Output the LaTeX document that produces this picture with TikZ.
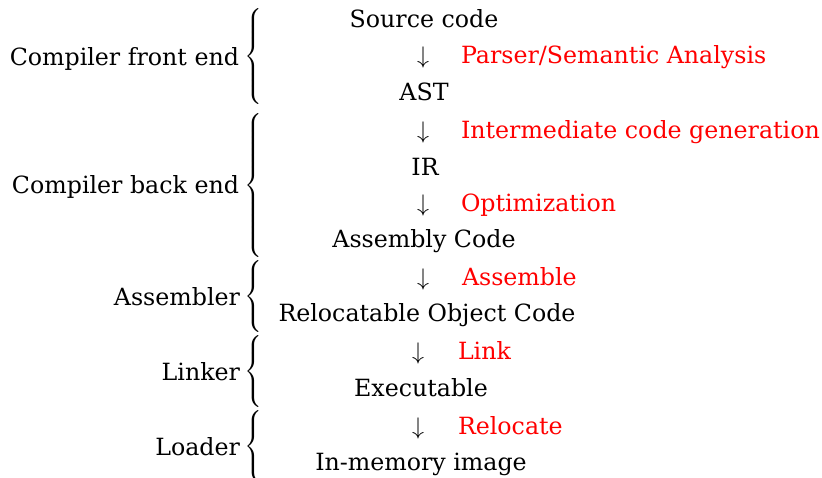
\documentclass[tikz,border=0pt]{standalone}
\usepackage{fontspec}
\setmainfont{DejaVu Serif}
\newcommand\grpbrace[1]{$\delimiterfactor=1000\delimitershortfall=0pt\left\{\vcenter{\hrule height #1 width 0pt}\right.$}
\begin{document}
\begin{tikzpicture}[x=0.5pt,y=-0.5pt,
  every node/.style={inner sep=0pt, outer sep=0pt, font=\fontsize{11.85}{14}\selectfont},
  stage/.style={anchor=base},
  act/.style={anchor=base west, text=red},
  arr/.style={anchor=base},
  grp/.style={anchor=base east},
  brc/.style={anchor=west}]
\useasboundingbox (0,0) rectangle (822,477);
\node[stage] (src) at (424,27) {Source code};
\node[arr] (a1) at (423,63) {$\downarrow$};
\node[act] (l1) at (461,63) {Parser/Semantic Analysis};
\node[stage] (ast) at (424,100) {AST};
\node[arr] (a2) at (423,138) {$\downarrow$};
\node[act] (l2) at (461,138) {Intermediate code generation};
\node[stage] (ir) at (425,175) {IR};
\node[arr] (a3) at (423,211) {$\downarrow$};
\node[act] (l3) at (461,211) {Optimization};
\node[stage] (asm) at (424,247) {Assembly Code};
\node[arr] (a4) at (423,285) {$\downarrow$};
\node[act] (l4) at (462,285) {Assemble};
\node[stage] (obj) at (427,321) {Relocatable Object Code};
\node[arr] (a5) at (418,359) {$\downarrow$};
\node[act] (l5) at (458,359) {Link};
\node[stage] (exe) at (421,396) {Executable};
\node[arr] (a6) at (418,434) {$\downarrow$};
\node[act] (l6) at (458,434) {Relocate};
\node[stage] (img) at (421,470) {In-memory image};
\node[grp] (g1) at (239,65) {Compiler front end};
\node[grp] (g2) at (239,193) {Compiler back end};
\node[grp] (g3) at (240,305) {Assembler};
\node[grp] (g4) at (240,380) {Linker};
\node[grp] (g5) at (240,455) {Loader};
\node[brc] (b1) at (244,56.5) {\grpbrace{46.5pt}};
\node[brc] (b2) at (244,185) {\grpbrace{72pt}};
\node[brc] (b3) at (244,296.5) {\grpbrace{31.5pt}};
\node[brc] (b4) at (244,371.5) {\grpbrace{31.5pt}};
\node[brc] (b5) at (244,446.5) {\grpbrace{31.5pt}};
\end{tikzpicture}
\end{document}
